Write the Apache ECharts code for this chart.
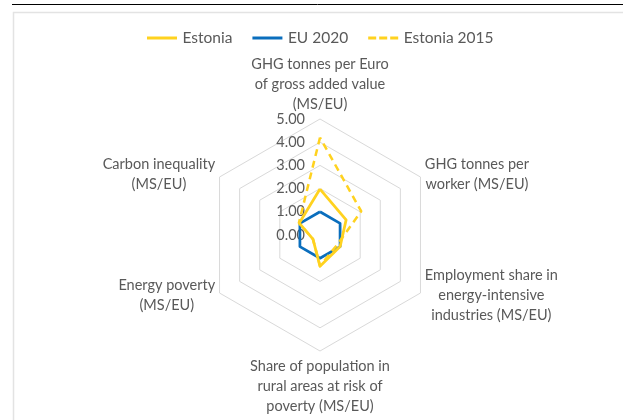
<!DOCTYPE html>
<html>
<head>
<meta charset="utf-8">
<script src="https://cdn.jsdelivr.net/npm/echarts@6/dist/echarts.min.js"></script>
<style>
html,body{margin:0;padding:0;background:#fff;}
#chart{width:623px;height:420px;}
</style>
</head>
<body>
<div id="chart"></div>
<script>
// Indicators in ECharts (counter-clockwise) order starting at the top
var categories = [
  'GHG tonnes per Euro\nof gross added value\n(MS/EU)',
  'Carbon inequality\n(MS/EU)',
  'Energy poverty\n(MS/EU)',
  'Share of population in\nrural areas at risk of\npoverty (MS/EU)',
  'Employment share in\nenergy-intensive\nindustries (MS/EU)',
  'GHG tonnes per\nworker (MS/EU)'
];
var seriesNames = ['Estonia', 'EU 2020', 'Estonia 2015'];
var estonia = [1.98, 1.03, 0.35, 1.35, 1.0, 1.3];
var eu2020 = [1, 1, 1, 1, 1, 1];
var estonia2015 = [4.2, 1.05, 0.35, 1.33, 0.85, 2.05];
var tickValues = [0, 1, 2, 3, 4, 5];

var YELLOW = '#FFD21F';
var BLUE = '#0A6EBD';
var TXT = '#595959';
var FONT = 'Lato, "Open Sans", sans-serif';

var chart = echarts.init(document.getElementById('chart'), null, {renderer: 'canvas'});

function nameFmt(v) {
  return v.split('\n').map(function (s) { return '{c|' + s + '}'; }).join('\n');
}

var option = {
  backgroundColor: '#fff',
  animation: false,
  graphic: [
    {type: 'line', shape: {x1: 12, y1: 4.5, x2: 623, y2: 4.5}, style: {stroke: '#000', lineWidth: 1}},
    {type: 'polyline', shape: {points: [[13.5, 420], [13.5, 12.5], [623, 12.5]]}, style: {stroke: '#E3E3E3', lineWidth: 1.5, fill: null}}
  ],
  legend: {
    data: [
      {name: seriesNames[0], icon: 'path://M0,0H30V3H0Z'},
      {name: seriesNames[1], icon: 'path://M0,0H30V3H0Z'},
      {name: seriesNames[2], icon: 'path://M0,0H8V3H0Z M11,0H19V3H11Z M22,0H30V3H22Z'}
    ],
    left: 142,
    top: 25,
    itemWidth: 31,
    itemHeight: 3,
    itemGap: 20,
    textStyle: {color: TXT, fontSize: 15.5, fontFamily: FONT}
  },
  radar: {
    center: [320, 235],
    radius: 116,
    startAngle: 90,
    splitNumber: 5,
    shape: 'polygon',
    nameGap: 5,
    indicator: categories.map(function (c) { return {name: c, min: 0, max: 5}; }),
    axisName: {
      color: TXT,
      fontSize: 14.5,
      fontFamily: FONT,
      formatter: nameFmt,
      rich: {c: {align: 'center', color: TXT, fontSize: 14.5, fontFamily: FONT, lineHeight: 20}}
    },
    axisLine: {show: false},
    axisTick: {show: false},
    axisLabel: {show: false},
    splitArea: {show: false},
    splitLine: {lineStyle: {color: '#D9D9D9', width: 1}}
  },
  polar: {center: [320, 235], radius: 116},
  angleAxis: {show: false, startAngle: 90, min: 0, max: 360},
  radiusAxis: {
    min: tickValues[0],
    max: tickValues[tickValues.length - 1],
    interval: 1,
    axisLine: {show: false},
    axisTick: {show: false},
    splitLine: {show: false},
    axisLabel: {
      show: true,
      margin: 15,
      color: TXT,
      fontSize: 14.5,
      fontFamily: FONT,
      formatter: function (v) { return v.toFixed(2); }
    }
  },
  series: [{
    type: 'radar',
    symbol: 'none',
    data: [
      {name: seriesNames[1], value: eu2020, lineStyle: {color: BLUE, width: 2.75}, itemStyle: {color: BLUE}, z: 2},
      {name: seriesNames[2], value: estonia2015, lineStyle: {color: YELLOW, width: 2.5, type: [7, 5]}, itemStyle: {color: YELLOW}},
      {name: seriesNames[0], value: estonia, lineStyle: {color: YELLOW, width: 2.75}, itemStyle: {color: YELLOW}}
    ]
  }]
};
chart.setOption(option);
</script>
</body>
</html>
